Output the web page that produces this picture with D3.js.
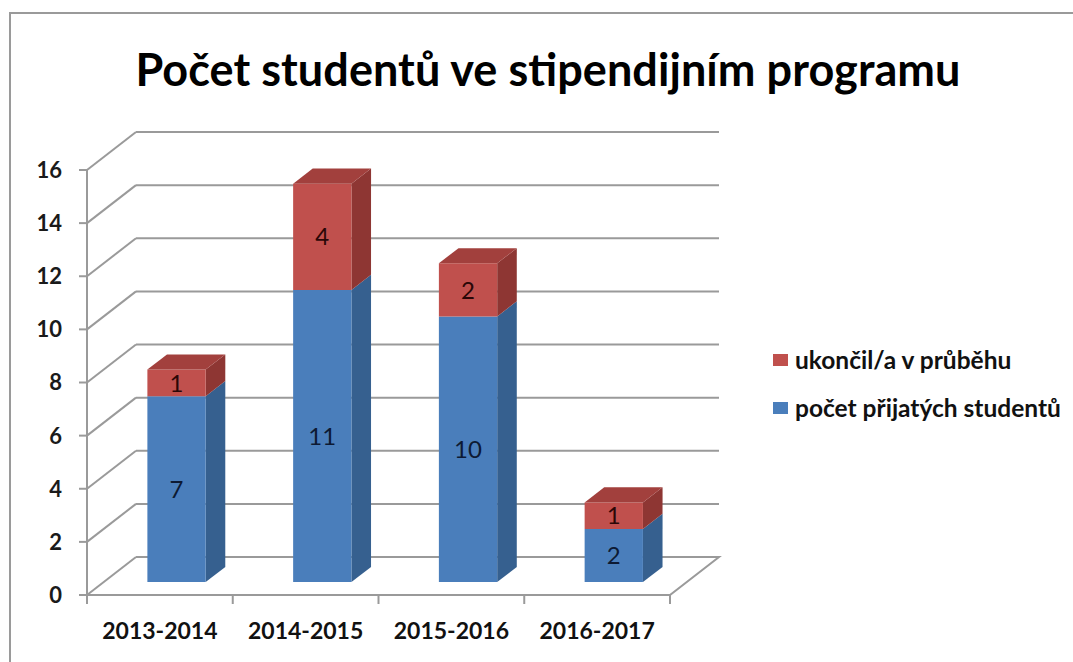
<!DOCTYPE html>
<html lang="cs">
<head>
    <meta charset="UTF-8">
    <title>Počet studentů ve stipendijním programu</title>
    <script src="https://d3js.org/d3.v7.min.js"></script>
    <style>
        html, body { margin: 0; background: #fff; overflow: hidden; }
        svg { display: block; }
        text { font-family: Lato, "Open Sans", sans-serif; }
    </style>
</head>
<body>
    <div id="chart"></div>
    <script>
        const categories = ["2013-2014", "2014-2015", "2015-2016", "2016-2017"];
        const accepted = [7, 11, 10, 2];
        const quit = [1, 4, 2, 1];
        const seriesNames = ["ukončil/a v průběhu", "počet přijatých studentů"];
        const yTicks = [0, 2, 4, 6, 8, 10, 12, 14, 16];

        const width = 1073;
        const height = 662;

        // 3D depth offset of the back wall
        const DX = 49, DY = -38;
        const barFront = 0.34, barDepth = 0.4;

        const svg = d3.select("#chart").append("svg")
            .attr("width", width)
            .attr("height", height);

        // chart frame: only top and left edges are inside the picture
        svg.append("path")
            .attr("d", `M10,${height}L10,13L${width},13`)
            .attr("fill", "none")
            .attr("stroke", "#9a9a9a")
            .attr("stroke-width", 2);

        svg.append("text")
            .attr("x", 548).attr("y", 86)
            .attr("text-anchor", "middle")
            .attr("font-size", 45)
            .attr("font-weight", "bold")
            .attr("fill", "#000")
            .attr("textLength", 825)
            .attr("lengthAdjust", "spacing")
            .text("Počet studentů ve stipendijním programu");

        const x = d3.scaleBand()
            .domain(categories)
            .range([87, 670])
            .paddingInner(0.6)
            .paddingOuter(0.3);

        const y = d3.scaleLinear()
            .domain([0, 16])
            .range([595, 170]);

        const grid = "#9a9a9a";

        // back wall gridlines + left wall diagonals
        const g = svg.append("g");
        yTicks.forEach(t => {
            g.append("line")
                .attr("x1", 87).attr("y1", y(t))
                .attr("x2", 87 + DX).attr("y2", y(t) + DY)
                .attr("stroke", grid).attr("stroke-width", 2);
            if (t > 0) {
                g.append("line")
                    .attr("x1", 87 + DX).attr("y1", y(t) + DY)
                    .attr("x2", 670 + DX).attr("y2", y(t) + DY)
                    .attr("stroke", grid).attr("stroke-width", 2);
            }
        });

        // floor
        g.append("path")
            .attr("d", `M87,${y(0)}L670,${y(0)}L${670 + DX},${y(0) + DY}L${87 + DX},${y(0) + DY}`)
            .attr("fill", "none")
            .attr("stroke", grid).attr("stroke-width", 2);

        // y axis
        g.append("line")
            .attr("x1", 87).attr("y1", y(0) + 1)
            .attr("x2", 87).attr("y2", y(16) - 1)
            .attr("stroke", grid).attr("stroke-width", 2);
        yTicks.forEach(t => {
            g.append("line")
                .attr("x1", 79).attr("x2", 87)
                .attr("y1", y(t)).attr("y2", y(t))
                .attr("stroke", grid).attr("stroke-width", 2);
            svg.append("text")
                .attr("x", 62).attr("y", y(t))
                .attr("dy", "0.36em")
                .attr("text-anchor", "end")
                .attr("font-size", 22)
                .attr("font-weight", "bold")
                .attr("fill", "#1a1a1a")
                .text(t);
        });

        // x axis ticks and labels
        const bounds = categories.map(c => x(c) - x.step() * x.paddingInner() / 2);
        bounds.push(670);
        bounds[0] = 87;
        bounds.forEach(b => {
            g.append("line")
                .attr("x1", b).attr("x2", b)
                .attr("y1", y(0)).attr("y2", y(0) + 9)
                .attr("stroke", grid).attr("stroke-width", 2);
        });
        categories.forEach(c => {
            svg.append("text")
                .attr("x", x(c) + x.bandwidth() / 2).attr("y", 639)
                .attr("text-anchor", "middle")
                .attr("font-size", 23)
                .attr("font-weight", "bold")
                .attr("fill", "#111")
                .text(c);
        });

        const colors = {
            blue: { front: "#4a7ebb", side: "#36608f", top: "#41709f", text: "#0d1a33" },
            red: { front: "#c0504d", side: "#8e3633", top: "#a2403d", text: "#2a0707" }
        };

        function pt(px, v, d) {
            return [px + d * DX, y(v) + d * DY];
        }
        function poly(pts) {
            return "M" + pts.map(p => p.join(",")).join("L") + "Z";
        }

        const bars = svg.append("g");
        categories.forEach((c, i) => {
            const x0 = x(c), x1 = x(c) + x.bandwidth();
            const segs = [
                { lo: 0, hi: accepted[i], val: accepted[i], col: colors.blue },
                { lo: accepted[i], hi: accepted[i] + quit[i], val: quit[i], col: colors.red }
            ];
            const f0 = barFront, f1 = barFront + barDepth;
            segs.forEach((s, k) => {
                bars.append("path")
                    .attr("d", poly([pt(x1, s.lo, f0), pt(x1, s.lo, f1), pt(x1, s.hi, f1), pt(x1, s.hi, f0)]))
                    .attr("fill", s.col.side);
                bars.append("path")
                    .attr("d", poly([pt(x0, s.lo, f0), pt(x1, s.lo, f0), pt(x1, s.hi, f0), pt(x0, s.hi, f0)]))
                    .attr("fill", s.col.front);
                if (k === segs.length - 1) {
                    bars.append("path")
                        .attr("d", poly([pt(x0, s.hi, f0), pt(x1, s.hi, f0), pt(x1, s.hi, f1), pt(x0, s.hi, f1)]))
                        .attr("fill", s.col.top);
                }
                const c0 = pt((x0 + x1) / 2, (s.lo + s.hi) / 2, f0);
                bars.append("text")
                    .attr("x", c0[0]).attr("y", c0[1])
                    .attr("dy", "0.36em")
                    .attr("text-anchor", "middle")
                    .attr("font-size", 24)
                    .attr("fill", s.col.text)
                    .text(s.val);
            });
        });

        // legend
        const legend = svg.append("g");
        [{ name: seriesNames[0], col: colors.red.front }, { name: seriesNames[1], col: colors.blue.front }]
            .forEach((d, i) => {
                const ly = 360 + i * 48;
                legend.append("rect")
                    .attr("x", 773).attr("y", ly - 6)
                    .attr("width", 15).attr("height", 12)
                    .attr("fill", d.col);
                legend.append("text")
                    .attr("x", 795).attr("y", ly)
                    .attr("dy", "0.36em")
                    .attr("font-size", 24.5)
                    .attr("font-weight", "bold")
                    .attr("fill", "#111")
                    .text(d.name);
            });
    </script>
</body>
</html>
